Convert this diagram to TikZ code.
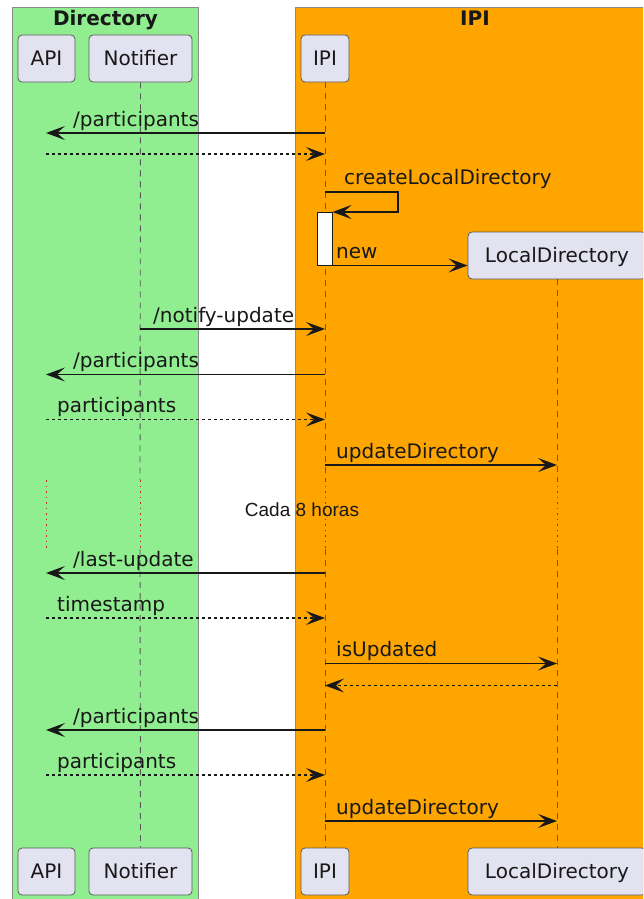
\documentclass[tikz,border=0pt]{standalone}
\usepackage{fontspec}
\setmainfont{DejaVu Sans}
\newfontfamily\delayfont{Liberation Sans}
\usetikzlibrary{arrows.meta}
\definecolor{grpgreen}{HTML}{90EE90}
\definecolor{grporange}{HTML}{FFA500}
\definecolor{partfill}{HTML}{E2E2F0}
\definecolor{ink}{HTML}{181818}
\definecolor{grpline}{HTML}{8A8A8A}
\definecolor{partline}{HTML}{5A5A5A}
\definecolor{delayred}{HTML}{C0282D}
\begin{document}
\begin{tikzpicture}[x=1pt,y=-1pt,
  grp/.style={draw=grpline, line width=0.9pt},
  grptitle/.style={inner sep=0, anchor=base, font=\bfseries\fontsize{20}{24}\selectfont, text=ink},
  part/.style={draw=partline, fill=partfill, rounded corners=4pt, line width=0.8pt,
     inner sep=0, minimum height=47pt, text height=14.6pt, text depth=0pt,
     font=\fontsize{20}{24}\selectfont, text=ink},
  life/.style={draw=partline, line width=0.9pt, dash pattern=on 6pt off 5pt},
  lifedelay/.style={draw=delayred, line width=1pt, dash pattern=on 1.5pt off 4pt},
  msg/.style={draw=ink, line width=1.4pt, -{Stealth[length=19pt,width=14pt,inset=8pt]}},
  ret/.style={msg, line width=1.1pt, dash pattern=on 3pt off 3pt},
  lbl/.style={inner sep=0, anchor=base west, font=\fontsize{20}{24}\selectfont, text=ink},
  actbox/.style={draw=ink, fill=white, line width=1pt, inner sep=0, minimum width=14.5pt, minimum height=53pt}
]
\useasboundingbox (0,0) rectangle (643,899);
\clip (0,0) rectangle (643,899);

% groups
\fill[grpgreen] (12,7) rectangle (198,910);
\draw[grp] (12,910) -- (12,7) -- (198,7) -- (198,910);
\fill[grporange] (295,7) rectangle (660,910);
\draw[grp] (295,910) -- (295,7) -- (660,7);
\node[grptitle] (gdir) at (105.5,26) {Directory};
\node[grptitle] (gipi) at (475,26) {IPI};

% participants (top)
\node[part, minimum width=57pt] (apiT) at (46.5,58.5) {API};
\node[part, minimum width=103pt] (notT) at (140.5,58.5) {Notifier};
\node[part, minimum width=48pt] (ipiT) at (325,58.5) {IPI};
\node[part, minimum width=178pt] (ldT) at (557,255.5) {LocalDirectory};
% participants (bottom)
\node[part, minimum width=57pt] (apiB) at (46.5,871.5) {API};
\node[part, minimum width=103pt] (notB) at (140.5,871.5) {Notifier};
\node[part, minimum width=48pt] (ipiB) at (325,871.5) {IPI};
\node[part, minimum width=178pt] (ldB) at (557,871.5) {LocalDirectory};

% delay coordinates
\coordinate (apiD1) at (46,480);  \coordinate (apiD2) at (46,549);
\coordinate (notD1) at (140,480); \coordinate (notD2) at (140,549);
\coordinate (ipiD1) at (325,480); \coordinate (ipiD2) at (325,549);
\coordinate (ldD1) at (557,480);  \coordinate (ldD2) at (557,549);

% lifelines
\draw[life] (notT.south) -- (notD1);
\draw[lifedelay] (notD1) -- (notD2);
\draw[life] (notD2) -- (notB.north);
\draw[life] (ipiT.south) -- (ipiD1);
\draw[lifedelay] (ipiD1) -- (ipiD2);
\draw[life] (ipiD2) -- (ipiB.north);
\draw[life] (ldT.south) -- (ldD1);
\draw[lifedelay] (ldD1) -- (ldD2);
\draw[life] (ldD2) -- (ldB.north);
\draw[lifedelay] (apiD1) -- (apiD2);

% activation
\node[actbox] (act) at (325,238.7) {};

% message coordinates
\coordinate (api1) at (46,133);   \coordinate (ipi1) at (325,133);
\coordinate (api2) at (46,154);   \coordinate (ipi2) at (325,154);
\coordinate (ipi3a) at (325,192); \coordinate (self3a) at (398,192);
\coordinate (self3b) at (398,212); \coordinate (act3) at (332.5,212);
\coordinate (act5) at (332.5,265.5);
\coordinate (not6) at (140,329);  \coordinate (ipi6) at (325,329);
\coordinate (api7) at (46,374.5); \coordinate (ipi7) at (325,374.5);
\coordinate (api8) at (46,419.5); \coordinate (ipi8) at (325,419.5);
\coordinate (ipi9) at (325,465);  \coordinate (ld9) at (557,465);
\coordinate (api11) at (46,573);  \coordinate (ipi11) at (325,573);
\coordinate (api12) at (46,618);  \coordinate (ipi12) at (325,618);
\coordinate (ipi13) at (325,663.5); \coordinate (ld13) at (557,663.5);
\coordinate (ipi14) at (325,685.5); \coordinate (ld14) at (557,685.5);
\coordinate (api15) at (46,730);  \coordinate (ipi15) at (325,730);
\coordinate (api16) at (46,775);  \coordinate (ipi16) at (325,775);
\coordinate (ipi17) at (325,821); \coordinate (ld17) at (557,821);

% messages
\draw[msg] (ipi1) -- (api1);
\node[lbl] (t1) at (73,126) {/participants};
\draw[ret] (api2) -- (ipi2);
\draw[msg] (ipi3a) -- (self3a) -- (self3b) -- (act3);
\node[lbl] (t3) at (344,184.5) {createLocalDirectory};
\draw[msg] (act5) -- (ldT.west |- act5);
\node[lbl] (t5) at (336,258) {new};
\draw[msg] (not6) -- (ipi6);
\node[lbl] (t6) at (153,322) {/notify-update};
\draw[msg] (ipi7) -- (api7);
\node[lbl] (t7) at (73,367.5) {/participants};
\draw[ret] (api8) -- (ipi8);
\node[lbl] (t8) at (57,412.5) {participants};
\draw[msg] (ipi9) -- (ld9);
\node[lbl] (t9) at (336,458) {updateDirectory};

\node[inner sep=0, anchor=base, font=\delayfont\fontsize{19}{22}\selectfont, text=ink] (delay) at (302,516.5) {Cada 8 horas};

\draw[msg] (ipi11) -- (api11);
\node[lbl] (t11) at (73,566) {/last-update};
\draw[ret] (api12) -- (ipi12);
\node[lbl] (t12) at (57,611) {timestamp};
\draw[msg] (ipi13) -- (ld13);
\node[lbl] (t13) at (336,656.5) {isUpdated};
\draw[ret] (ld14) -- (ipi14);
\draw[msg] (ipi15) -- (api15);
\node[lbl] (t15) at (73,723) {/participants};
\draw[ret] (api16) -- (ipi16);
\node[lbl] (t16) at (57,768) {participants};
\draw[msg] (ipi17) -- (ld17);
\node[lbl] (t17) at (336,814) {updateDirectory};
\end{tikzpicture}
\end{document}
